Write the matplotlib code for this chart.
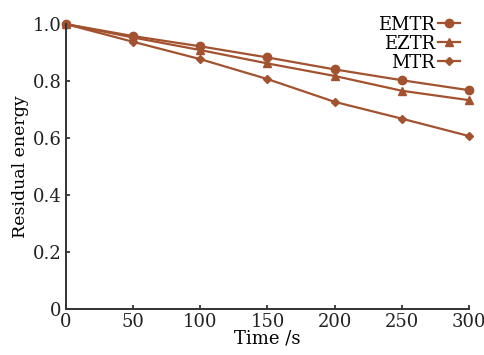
import numpy as np
import matplotlib
matplotlib.use("Agg")
import matplotlib.pyplot as plt

# data
time = [0, 50, 100, 150, 200, 250, 300]
emtr = [1.0, 0.958, 0.922, 0.883, 0.841, 0.803, 0.768]
eztr = [1.0, 0.953, 0.909, 0.862, 0.818, 0.766, 0.733]
mtr = [1.0, 0.938, 0.877, 0.807, 0.727, 0.668, 0.607]
xticks = [0, 50, 100, 150, 200, 250, 300]
yticks = [0, 0.2, 0.4, 0.6, 0.8, 1.0]
yticklabels = ["0", "0.2", "0.4", "0.6", "0.8", "1.0"]

plt.rcParams['font.family'] = ['DejaVu Serif']
col = '#a3522f'

fig = plt.figure(figsize=(4.85, 3.55), dpi=100)
ax = fig.add_axes([0.136, 0.13, 0.831, 0.802])

ax.plot(time, emtr, color=col, lw=1.6, marker='o', ms=6, label='EMTR', clip_on=False)
ax.plot(time, eztr, color=col, lw=1.6, marker='^', ms=6, label='EZTR', clip_on=False)
ax.plot(time, mtr, color=col, lw=1.6, marker='D', ms=4, label='MTR', clip_on=False)

ax.set_xlim(0, 300)
ax.set_ylim(0, 1.0)
ax.set_xticks(xticks)
ax.set_yticks(yticks)
ax.set_yticklabels(yticklabels)
ax.spines['top'].set_visible(False)
ax.spines['right'].set_visible(False)
for s in ['left', 'bottom']:
    ax.spines[s].set_linewidth(1.4)
    ax.spines[s].set_color('#333333')
ax.tick_params(direction='in', length=3, width=1.2, labelsize=13, pad=3, colors='#222222')

ax.set_xlabel("Time /s", fontsize=13, labelpad=-1)
ax.set_ylabel("Residual energy", fontsize=12.5, labelpad=3)

leg = ax.legend(loc='upper right', frameon=False, markerfirst=False, fontsize=13,
                handlelength=1.2, handletextpad=0.15, labelspacing=0.05,
                borderaxespad=0.0, bbox_to_anchor=(0.995, 1.055))

fig.savefig("out.png", dpi=100)
